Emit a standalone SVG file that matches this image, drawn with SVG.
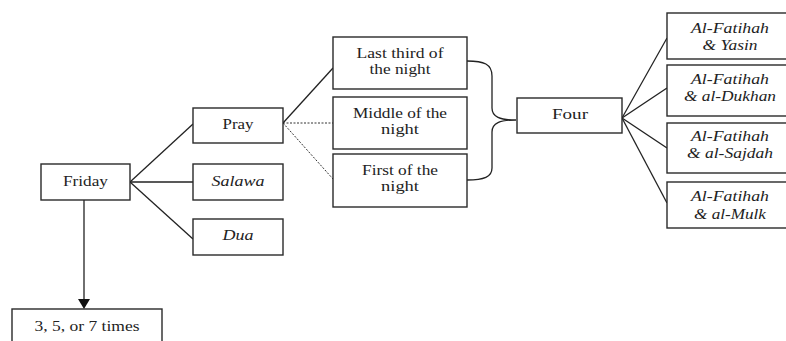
<svg xmlns="http://www.w3.org/2000/svg" width="786" height="341" viewBox="0 0 786 341">
<style>
.box{fill:#fff;stroke:#2a2a2a;stroke-width:1.4}
text{font-family:'Liberation Serif','DejaVu Serif','Times New Roman',Times,serif;font-size:14px;fill:#222;text-anchor:middle}
.i{font-style:italic}
.ln{fill:none;stroke:#222;stroke-width:1.3}
.dot{fill:none;stroke:#333;stroke-width:1;stroke-dasharray:2 1.5}
</style>
<rect width="786" height="341" fill="#fff"/>
<g id="connectors">
<line class="ln" x1="130" y1="182" x2="193" y2="124"/>
<line class="ln" x1="130" y1="182" x2="193" y2="182"/>
<line class="ln" x1="130" y1="182" x2="193" y2="239"/>
<line class="ln" x1="84" y1="200" x2="84" y2="300"/>
<polygon points="78,299 90,299 84,309" fill="#111"/>
<line class="ln" x1="283" y1="123" x2="333" y2="68"/>
<line class="dot" x1="283" y1="123" x2="333" y2="123"/>
<line class="dot" x1="283" y1="123" x2="333" y2="179"/>
<path class="ln" d="M467,61 C484,61 492,64 492,76 L492,108 C492,117 500,120 516,120 C500,120 492,123 492,132 L492,168 C492,177 484,180 467,180"/>
<line class="ln" x1="622" y1="118" x2="667" y2="38"/>
<line class="ln" x1="622" y1="118" x2="667" y2="88"/>
<line class="ln" x1="622" y1="118" x2="667" y2="148"/>
<line class="ln" x1="622" y1="118" x2="667" y2="203"/>
</g>
<g id="friday"><rect class="box" x="41" y="164" width="89" height="36"/><text x="85.5" y="186" textLength="45" lengthAdjust="spacingAndGlyphs">Friday</text></g>
<g id="times"><rect class="box" x="12" y="309" width="150" height="40"/><text x="87" y="331" textLength="105" lengthAdjust="spacingAndGlyphs">3, 5, or 7 times</text></g>
<g id="pray"><rect class="box" x="193" y="108" width="90" height="35"/><text x="238" y="129" textLength="31" lengthAdjust="spacingAndGlyphs">Pray</text></g>
<g id="salawa"><rect class="box" x="193" y="164" width="90" height="36"/><text class="i" x="238" y="186" textLength="53" lengthAdjust="spacingAndGlyphs">Salawa</text></g>
<g id="dua"><rect class="box" x="193" y="219" width="90" height="36"/><text class="i" x="238" y="240" textLength="31" lengthAdjust="spacingAndGlyphs">Dua</text></g>
<g id="last-third"><rect class="box" x="333" y="37" width="134" height="52"/><text x="400" y="58" textLength="87" lengthAdjust="spacingAndGlyphs">Last third of</text><text x="400" y="74" textLength="61" lengthAdjust="spacingAndGlyphs">the night</text></g>
<g id="middle"><rect class="box" x="333" y="97" width="134" height="52"/><text x="400" y="118" textLength="94" lengthAdjust="spacingAndGlyphs">Middle of the</text><text x="400" y="134" textLength="38" lengthAdjust="spacingAndGlyphs">night</text></g>
<g id="first"><rect class="box" x="333" y="154" width="134" height="53"/><text x="400" y="175" textLength="76" lengthAdjust="spacingAndGlyphs">First of the</text><text x="400" y="191" textLength="38" lengthAdjust="spacingAndGlyphs">night</text></g>
<g id="four"><rect class="box" x="517" y="98" width="105" height="35"/><text x="570" y="119" textLength="36" lengthAdjust="spacingAndGlyphs">Four</text></g>
<g id="yasin"><rect class="box" x="667" y="13" width="130" height="46"/><text class="i" x="730" y="33" textLength="78" lengthAdjust="spacingAndGlyphs">Al-Fatihah</text><text class="i" x="730" y="50" textLength="55" lengthAdjust="spacingAndGlyphs">&amp; Yasin</text></g>
<g id="dukhan"><rect class="box" x="667" y="65" width="130" height="51"/><text class="i" x="730" y="84" textLength="78" lengthAdjust="spacingAndGlyphs">Al-Fatihah</text><text class="i" x="730" y="101" textLength="92" lengthAdjust="spacingAndGlyphs">&amp; al-Dukhan</text></g>
<g id="sajdah"><rect class="box" x="667" y="123" width="130" height="50"/><text class="i" x="730" y="141" textLength="78" lengthAdjust="spacingAndGlyphs">Al-Fatihah</text><text class="i" x="730" y="158" textLength="86" lengthAdjust="spacingAndGlyphs">&amp; al-Sajdah</text></g>
<g id="mulk"><rect class="box" x="667" y="182" width="130" height="46"/><text class="i" x="730" y="201" textLength="78" lengthAdjust="spacingAndGlyphs">Al-Fatihah</text><text class="i" x="730" y="219" textLength="72" lengthAdjust="spacingAndGlyphs">&amp; al-Mulk</text></g>
</svg>
